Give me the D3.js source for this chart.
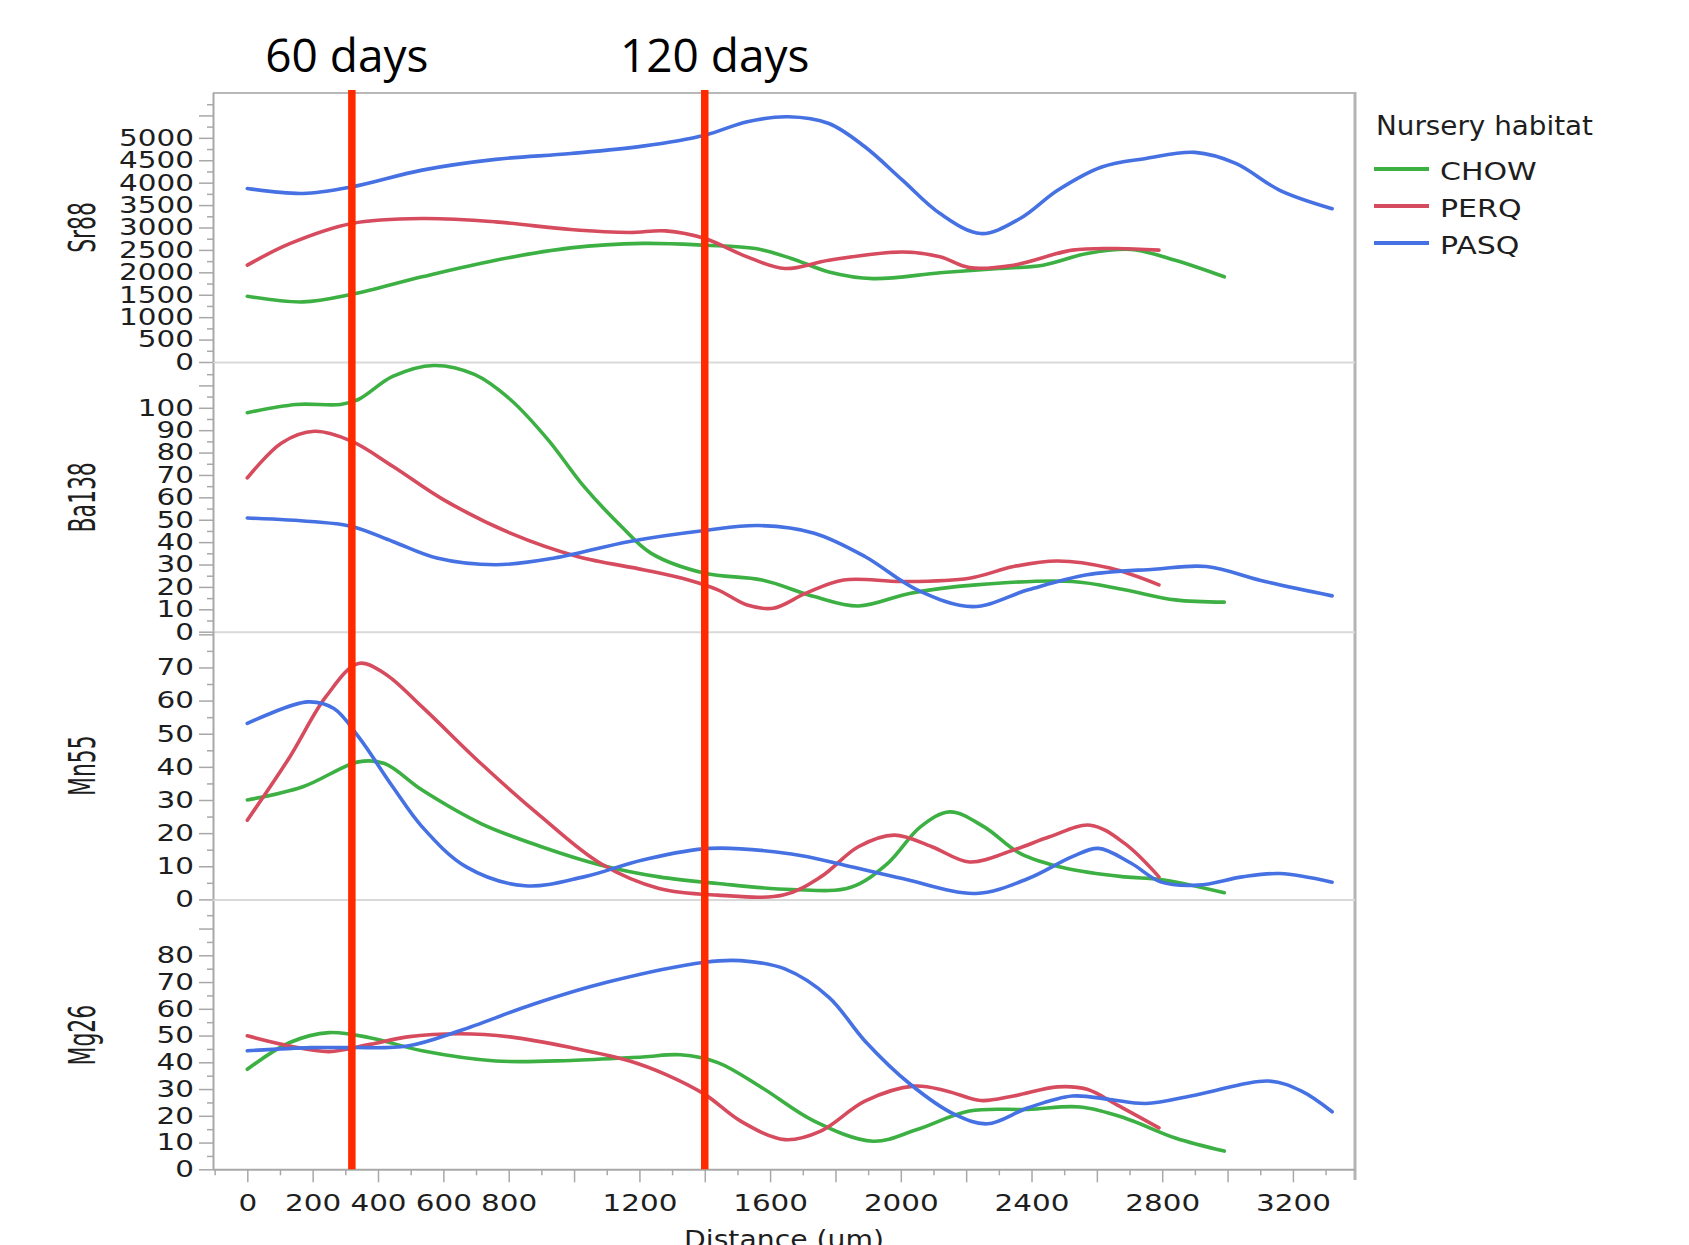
<!DOCTYPE html>
<html><head><meta charset="utf-8">
<script src="https://cdn.jsdelivr.net/npm/d3@7"></script>
<style>body{margin:0;background:#fff} svg{display:block}</style>
</head><body>
<svg id="chart" width="1689" height="1245"></svg>
<script>
// ---------------- data ----------------
const habitats = ["CHOW", "PERQ", "PASQ"];
const elements = ["Sr88", "Ba138", "Mn55", "Mg26"];

// [distance (um), concentration]
const sr88_CHOW = [[0,1467],[170,1340],[320,1510],[535,1900],[760,2270],[990,2545],[1210,2645],[1400,2605],[1555,2530],[1665,2310],[1780,2010],[1915,1860],[2120,1990],[2300,2085],[2435,2160],[2570,2420],[2705,2510],[2840,2270],[2990,1900]];
const sr88_PERQ = [[0,2160],[130,2640],[320,3090],[535,3200],[760,3125],[990,2955],[1170,2890],[1280,2925],[1400,2755],[1530,2345],[1645,2085],[1780,2270],[2005,2455],[2120,2345],[2210,2105],[2345,2160],[2525,2495],[2660,2530],[2790,2495]];
const sr88_PASQ = [[0,3870],[170,3760],[320,3906],[535,4280],[760,4520],[990,4650],[1210,4815],[1400,5060],[1530,5360],[1655,5470],[1780,5320],[1890,4800],[2005,4055],[2120,3310],[2245,2865],[2365,3200],[2480,3830],[2615,4350],[2750,4540],[2900,4675],[3025,4430],[3160,3830],[3320,3420]];

const ba138_CHOW = [[0,97.8],[150,101.5],[285,101.5],[340,103.7],[445,114],[570,118.9],[695,114.9],[805,103.7],[920,85.8],[1030,64.9],[1145,47],[1235,35.1],[1400,26.1],[1575,23.1],[1735,15.7],[1870,11.5],[2030,17.2],[2230,20.9],[2525,22.4],[2685,18.7],[2840,14.2],[2990,13.2]];
const ba138_PERQ = [[0,68.7],[105,84.3],[205,89.5],[320,85],[445,73.9],[600,59],[805,44],[1010,33.6],[1215,27.6],[1350,23.1],[1440,18.7],[1530,11.9],[1610,10.5],[1710,17.2],[1825,23.1],[2005,22.4],[2210,23.9],[2345,29.1],[2480,31.6],[2640,28.4],[2790,20.9]];
const ba138_PASQ = [[0,50.8],[195,49.2],[320,47],[445,40.3],[580,32.9],[760,29.9],[940,32.9],[1170,40.3],[1400,45.2],[1565,47.4],[1735,44],[1890,33.6],[2050,18.7],[2220,11.2],[2390,18.7],[2570,25.4],[2775,27.9],[2935,29.1],[3115,22.4],[3320,16]];

const mn55_CHOW = [[0,30],[170,34],[340,41.5],[420,41],[535,33],[715,22.9],[900,15.9],[1080,10.4],[1260,6.8],[1440,4.8],[1665,3],[1845,3.6],[1960,10.9],[2060,21.9],[2150,26.4],[2255,21.9],[2365,13.9],[2505,9.4],[2685,6.8],[2795,6],[2990,2]];
const mn55_PERQ = [[0,23.9],[130,43],[240,61.1],[340,71.2],[420,68.2],[535,58.1],[715,41],[900,24.9],[1080,10.9],[1260,3.3],[1440,1.3],[1640,1.3],[1755,6.8],[1870,15.9],[1980,19.4],[2095,15.9],[2210,11.3],[2345,14.9],[2455,18.9],[2580,22.4],[2685,16.9],[2790,6.8]];
const mn55_PASQ = [[0,53.1],[185,59.6],[265,57.6],[340,49.1],[445,34],[535,21.9],[670,9.8],[850,4.1],[1030,6.8],[1210,11.9],[1415,15.4],[1665,13.7],[1825,10.4],[2005,6.3],[2230,1.8],[2390,6.3],[2525,12.9],[2605,15.4],[2705,10.9],[2795,5.3],[2910,4.3],[3045,6.8],[3160,7.8],[3320,5.2]];

const mg26_CHOW = [[0,37.4],[130,47.4],[250,51.1],[375,49.2],[535,44.3],[760,40.5],[990,40.7],[1210,42],[1325,42.8],[1440,39.9],[1575,30.5],[1735,18],[1915,10.5],[2050,14.9],[2210,21.8],[2390,22.4],[2550,23.3],[2685,19.2],[2840,11.7],[2990,6.8]];
const mg26_PERQ = [[0,49.9],[130,46.1],[250,44],[375,46.7],[490,49.5],[650,50.7],[805,49.5],[990,45.5],[1170,40.5],[1280,35.5],[1400,28],[1510,18],[1645,11.1],[1755,14.3],[1890,25.5],[2040,31.1],[2140,29.3],[2245,25.7],[2345,27.4],[2480,30.8],[2570,29.9],[2660,24.2],[2790,15.5]];
const mg26_PASQ = [[0,44.3],[195,45.5],[320,45.5],[490,46.1],[650,51.8],[875,61.7],[1100,69.9],[1400,77.4],[1510,78],[1645,74.9],[1780,64.3],[1890,48],[2030,31.7],[2165,20.5],[2265,17],[2390,23],[2525,27.4],[2640,26.1],[2750,24.6],[2910,28],[3125,33],[3225,29.3],[3320,21.5]];

// tick labels
const xTickLabels = [0,200,400,600,800,1200,1600,2000,2400,2800,3200];
const sr88TickLabels = [0,500,1000,1500,2000,2500,3000,3500,4000,4500,5000];
const ba138TickLabels = [0,10,20,30,40,50,60,70,80,90,100];
const mn55TickLabels = [0,10,20,30,40,50,60,70];
const mg26TickLabels = [0,10,20,30,40,50,60,70,80];

// annotation markers
const markerDistances = [320, 1400];
const markerLabels = ["60 days", "120 days"];

// ---------------- layout ----------------
const colors = ["#3cb043", "#d64b5e", "#4671e3"];
const L = 213, R = 1355;
const svg = d3.select("#chart");
const x = d3.scaleLinear().domain([-105, 3390]).range([L, R]);
const fmt = d3.format("d");

const panels = [
  {name: elements[0], series: [sr88_CHOW, sr88_PERQ, sr88_PASQ], labels: sr88TickLabels, step: 500, max: 6000, majorTop: 5500, top: 93, bottom: 362},
  {name: elements[1], series: [ba138_CHOW, ba138_PERQ, ba138_PASQ], labels: ba138TickLabels, step: 10, max: 120, majorTop: 110, top: 363, bottom: 631.7},
  {name: elements[2], series: [mn55_CHOW, mn55_PERQ, mn55_PASQ], labels: mn55TickLabels, step: 10, max: 80.7, majorTop: 80, top: 632, bottom: 899.4},
  {name: elements[3], series: [mg26_CHOW, mg26_PERQ, mg26_PASQ], labels: mg26TickLabels, step: 10, max: 100.3, majorTop: 90, top: 901, bottom: 1169.3}
];

const tickFont = "'DejaVu Sans', Verdana, sans-serif";
const axisGray = "#a8a8a8";
const sx = 1.28;

// frame
svg.append("line").attr("x1", L).attr("x2", R).attr("y1", 93).attr("y2", 93)
  .attr("stroke", "#b8b8b8").attr("stroke-width", 2);
svg.append("line").attr("x1", R).attr("x2", R).attr("y1", 92).attr("y2", 1180)
  .attr("stroke", "#b4b4b4").attr("stroke-width", 3);

panels.forEach((p, i) => {
  const y = d3.scaleLinear().domain([0, p.max]).range([p.bottom, p.top]);
  if (i < panels.length - 1) {
    svg.append("line").attr("x1", L).attr("x2", R).attr("y1", p.bottom + 0.5).attr("y2", p.bottom + 0.5)
      .attr("stroke", "#d9d9d9").attr("stroke-width", 2);
  }
  const majors = d3.range(0, p.majorTop + p.step / 2, p.step);
  const unlabeled = majors.filter(v => !p.labels.includes(v));
  const minors = d3.range(p.step / 2, p.max, p.step);

  const gMinor = svg.append("g").attr("transform", `translate(${L},0)`)
    .call(d3.axisLeft(y).tickValues(minors).tickSize(6).tickFormat(""));
  gMinor.select(".domain").remove();
  const gUn = svg.append("g").attr("transform", `translate(${L},0)`)
    .call(d3.axisLeft(y).tickValues(unlabeled).tickSize(14).tickFormat(""));
  gUn.select(".domain").remove();
  const gAx = svg.append("g").attr("transform", `translate(${L},0)`)
    .call(d3.axisLeft(y).tickValues(p.labels).tickFormat(fmt).tickSize(14).tickPadding(5).tickSizeOuter(0));
  gAx.select(".domain").attr("stroke", axisGray).attr("stroke-width", 2)
    .attr("d", `M0.5,${p.top}V${p.bottom}`);
  [gMinor, gUn, gAx].forEach(g => g.selectAll(".tick line").attr("stroke", axisGray).attr("stroke-width", 1.5));
  gAx.selectAll(".tick text")
    .attr("x", -19 / sx).attr("transform", `scale(${sx},1)`)
    .attr("font-family", tickFont).attr("font-size", 23).attr("fill", "#1e1e1e");

  // y-axis title (condensed, rotated)
  svg.append("text")
    .attr("transform", `translate(95,${(p.top + p.bottom) / 2}) rotate(-90) scale(0.6,1)`)
    .attr("text-anchor", "middle")
    .attr("font-family", tickFont).attr("font-size", 36.5).attr("fill", "#1e1e1e")
    .text(p.name);

  // curves
  const line = d3.line().x(d => x(d[0])).y(d => y(d[1])).curve(d3.curveCatmullRom.alpha(0.5));
  p.series.forEach((s, k) => {
    svg.append("path").attr("d", line(s)).attr("fill", "none")
      .attr("stroke", colors[k]).attr("stroke-width", 3.6).attr("stroke-linecap", "round");
  });
});

// x axis
const xb = panels[3].bottom;
const xMinor = d3.range(-100, 3390, 100).filter(v => v % 200 !== 0);
const xMajor = d3.range(0, 3390, 200);
const gxm = svg.append("g").attr("transform", `translate(0,${xb})`)
  .call(d3.axisBottom(x).tickValues(xMinor).tickSize(6).tickFormat(""));
gxm.select(".domain").remove();
const gxu = svg.append("g").attr("transform", `translate(0,${xb})`)
  .call(d3.axisBottom(x).tickValues(xMajor.filter(v => !xTickLabels.includes(v))).tickSize(13).tickFormat(""));
gxu.select(".domain").remove();
const gx = svg.append("g").attr("transform", `translate(0,${xb})`)
  .call(d3.axisBottom(x).tickValues(xTickLabels).tickFormat(fmt).tickSize(13).tickPadding(12.5).tickSizeOuter(0));
gx.select(".domain").attr("stroke", axisGray).attr("stroke-width", 2).attr("d", `M${L},0.5H${R}`);
[gxm, gxu, gx].forEach(g => g.selectAll(".tick line").attr("stroke", axisGray).attr("stroke-width", 1.5));
gx.selectAll(".tick text").attr("transform", `scale(${sx},1)`)
  .attr("font-family", tickFont).attr("font-size", 23).attr("fill", "#1e1e1e");

svg.append("text").attr("x", 0).attr("y", 0)
  .attr("transform", `translate(${(L + R) / 2},1248) scale(1.13,1)`)
  .attr("text-anchor", "middle").attr("font-family", tickFont).attr("font-size", 25).attr("fill", "#1e1e1e")
  .text("Distance (um)");

// legend
svg.append("text").attr("transform", "translate(1376,135) scale(1.07,1)")
  .attr("font-family", tickFont).attr("font-size", 26).attr("fill", "#1e1e1e").text("Nursery habitat");
habitats.forEach((h, k) => {
  const ly = 169 + k * 37;
  svg.append("line").attr("x1", 1374).attr("x2", 1429).attr("y1", ly).attr("y2", ly)
    .attr("stroke", colors[k]).attr("stroke-width", 4);
  svg.append("text").attr("transform", `translate(1440,${ly + 11}) scale(1.2,1)`)
    .attr("font-family", tickFont).attr("font-size", 25).attr("fill", "#1e1e1e").text(h);
});

// annotation markers
const labelOffsets = [-5, 10];
markerDistances.forEach((d, i) => {
  svg.append("line").attr("x1", x(d)).attr("x2", x(d)).attr("y1", 90).attr("y2", xb)
    .attr("stroke", "#ff2a00").attr("stroke-width", 7.5);
  svg.append("text").attr("x", x(d) + labelOffsets[i]).attr("y", 72)
    .attr("text-anchor", "middle").attr("font-family", "'Open Sans', sans-serif").attr("font-size", 46)
    .attr("fill", "#000").text(markerLabels[i]);
});
</script>
</body></html>
